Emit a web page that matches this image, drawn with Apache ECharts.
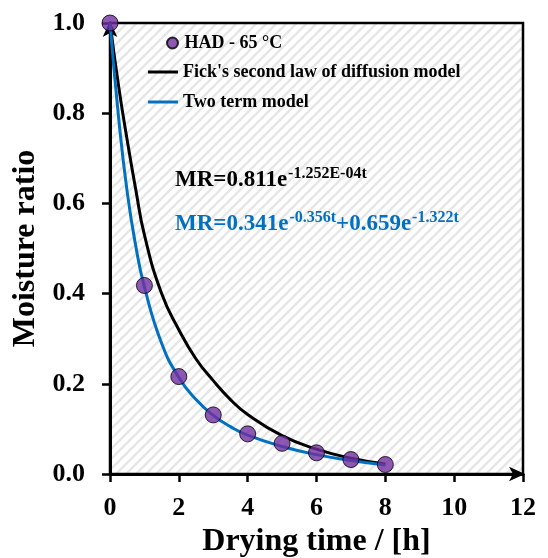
<!DOCTYPE html>
<html>
<head>
<meta charset="utf-8">
<script src="https://cdn.jsdelivr.net/npm/echarts@6/dist/echarts.min.js"></script>
<style>html,body{margin:0;padding:0;background:#fff;}#c{width:548px;height:558px;}</style>
</head>
<body>
<div id="c"></div>
<script>
// Experimental data (HAD - 65 °C)
const expTime = [0, 1, 2, 3, 4, 5, 6, 7, 8];
const expMR = [1.0, 0.418, 0.216, 0.131, 0.089, 0.068, 0.047, 0.032, 0.021];
// Fick's second law of diffusion model curve
const fickTime = [0, 0.25, 0.5, 0.75, 1, 1.5, 2, 2.5, 3, 3.5, 4, 5, 6, 7, 8];
const fickMR = [1.0, 0.86, 0.74, 0.63, 0.53, 0.40, 0.32, 0.255, 0.207, 0.165, 0.132, 0.085, 0.055, 0.035, 0.022];
// Two term model curve
const twoTime = [0, 0.25, 0.5, 0.75, 1, 1.5, 2, 2.5, 3, 3.5, 4, 5, 6, 7, 8];
const twoMR = [1.0, 0.79, 0.625, 0.505, 0.415, 0.29, 0.214, 0.165, 0.13, 0.105, 0.086, 0.061, 0.043, 0.03, 0.02];
const xTicks = [0, 2, 4, 6, 8, 10, 12];
const yTicks = [0.0, 0.2, 0.4, 0.6, 0.8, 1.0];

const zip = (a, b) => a.map((v, i) => [v, b[i]]);
const FONT = "'Liberation Serif', 'Times New Roman', serif";

// hatch pattern
const P = 10;
const pc = document.createElement('canvas');
pc.width = P; pc.height = P;
const g = pc.getContext('2d');
g.fillStyle = '#ffffff'; g.fillRect(0, 0, P, P);
g.strokeStyle = '#e6e6e6'; g.lineWidth = 2.4;
g.beginPath();
g.moveTo(-2, P + 2); g.lineTo(P + 2, -2);
g.moveTo(-2, 2); g.lineTo(2, -2);
g.moveTo(P - 2, P + 2); g.lineTo(P + 2, P - 2);
g.stroke();

const legendText = {fontFamily: FONT, fontWeight: 'bold', fontSize: 18, color: '#000'};

const chart = echarts.init(document.getElementById('c'), null, {renderer: 'canvas'});
chart.setOption({
  animation: false,
  backgroundColor: '#ffffff',
  grid: {
    left: 110, right: 25, top: 23, bottom: 84,
    outerBoundsMode: 'none',
    containLabel: false,
    show: true,
    backgroundColor: {image: pc, repeat: 'repeat'},
    borderColor: '#000', borderWidth: 2.5
  },
  legend: [
    {
      orient: 'vertical', left: 161, top: 29,
      itemWidth: 14, itemHeight: 11,
      textStyle: legendText,
      data: [{name: 'HAD - 65 °C', icon: 'circle'}]
    },
    {
      orient: 'vertical', left: 143, top: 58,
      itemWidth: 30, itemHeight: 3, itemGap: 12,
      textStyle: legendText,
      data: [
        {name: "Fick's second law of diffusion model", icon: 'rect'},
        {name: 'Two term model', icon: 'rect'}
      ]
    }
  ],
  xAxis: {
    type: 'value', min: 0, max: 12, interval: 2,
    name: 'Drying time / [h]', nameLocation: 'middle', nameGap: 50,
    nameTextStyle: {fontFamily: FONT, fontWeight: 'bold', fontSize: 32, color: '#000'},
    axisLine: {lineStyle: {color: '#000', width: 3}, symbol: ['none', 'arrow'], symbolSize: [11, 16], symbolOffset: [0, 2]},
    axisTick: {inside: false, length: 8, lineStyle: {color: '#000', width: 2.5}},
    axisLabel: {fontFamily: FONT, fontWeight: 'bold', fontSize: 26, color: '#000', margin: 21,
      formatter: v => xTicks.includes(v) ? String(v) : ''},
    splitLine: {show: false}
  },
  yAxis: {
    type: 'value', min: 0, max: 1.0, interval: 0.2,
    name: 'Moisture ratio', nameLocation: 'middle', nameGap: 62,
    nameTextStyle: {fontFamily: FONT, fontWeight: 'bold', fontSize: 32, color: '#000'},
    axisLine: {lineStyle: {color: '#000', width: 3}, symbol: ['none', 'arrow'], symbolSize: [11, 16], symbolOffset: [0, 2]},
    axisTick: {inside: false, length: 8, lineStyle: {color: '#000', width: 2.5}},
    axisLabel: {fontFamily: FONT, fontWeight: 'bold', fontSize: 26, color: '#000', margin: 25,
      formatter: v => { const t = yTicks.find(y => Math.abs(y - v) < 1e-9); return t === undefined ? '' : t.toFixed(1); }},
    splitLine: {show: false}
  },
  series: [
    {
      name: 'HAD - 65 °C', type: 'scatter', data: zip(expTime, expMR),
      symbol: 'circle', symbolSize: 16, z: 5,
      itemStyle: {color: '#7030A0', borderColor: '#000', borderWidth: 1}
    },
    {
      name: "Fick's second law of diffusion model", type: 'line', data: zip(fickTime, fickMR),
      smooth: true, symbol: 'none', z: 3,
      lineStyle: {color: '#000', width: 3}, itemStyle: {color: '#000'}
    },
    {
      name: 'Two term model', type: 'line', data: zip(twoTime, twoMR),
      smooth: true, symbol: 'none', z: 4,
      lineStyle: {color: '#0070C0', width: 3}, itemStyle: {color: '#0070C0'}
    }
  ],
  graphic: [
    {
      type: 'text', left: 175, top: 166, z: 10,
      style: {
        text: '{b|MR=0.811e}{s|-1.252E-04t}',
        rich: {
          b: {fontFamily: FONT, fontWeight: 'bold', fontSize: 23, fill: '#000', verticalAlign: 'bottom', lineHeight: 26},
          s: {fontFamily: FONT, fontWeight: 'bold', fontSize: 16, fill: '#000', verticalAlign: 'top', lineHeight: 26, padding: [0,0,10,1]}
        }
      }
    },
    {
      type: 'text', left: 175, top: 210, z: 10,
      style: {
        text: '{b|MR=0.341e}{s|-0.356t}{b|+0.659e}{s|-1.322t}',
        rich: {
          b: {fontFamily: FONT, fontWeight: 'bold', fontSize: 23, fill: '#0070C0', verticalAlign: 'bottom', lineHeight: 26},
          s: {fontFamily: FONT, fontWeight: 'bold', fontSize: 16, fill: '#0070C0', verticalAlign: 'top', lineHeight: 26, padding: [0,0,10,1]}
        }
      }
    }
  ]
});
</script>
</body>
</html>
